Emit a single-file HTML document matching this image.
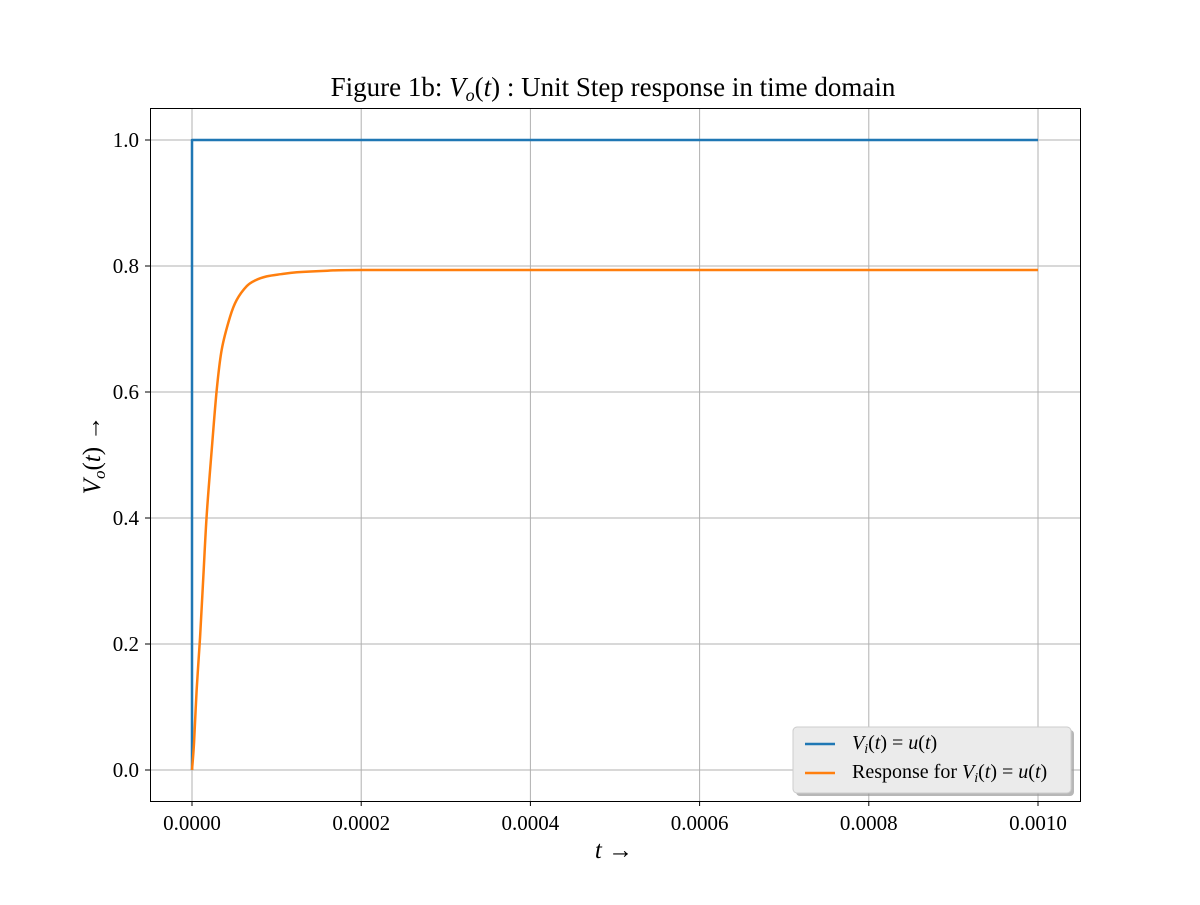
<!DOCTYPE html>
<html><head><meta charset="utf-8"><style>
body{margin:0;background:#fff;}
svg text{font-family:"Liberation Serif",serif;fill:#000;}
</style></head><body>
<svg width="1200" height="900" xmlns="http://www.w3.org/2000/svg">
<g id="grid"></g>
<g id="series"></g>
<rect x="150.5" y="108.5" width="930" height="693" fill="none" stroke="#000" stroke-width="1"/>
<g id="ticks"></g>
<text x="613" y="96" font-size="27" text-anchor="middle">Figure 1b: <tspan font-style="italic">V</tspan><tspan font-style="italic" font-size="18" dy="5">o</tspan><tspan dy="-5">(</tspan><tspan font-style="italic">t</tspan>) : Unit Step response in time domain</text>
<text x="614" y="858" font-size="25" text-anchor="middle"><tspan font-style="italic">t</tspan> →</text>
<text transform="translate(100,455) rotate(-90)" font-size="25" text-anchor="middle"><tspan font-style="italic">V</tspan><tspan font-style="italic" font-size="17" dy="5">o</tspan><tspan dy="-5">(</tspan><tspan font-style="italic">t</tspan>) →</text>
<g>
<rect x="796" y="730" width="278" height="66" rx="4" fill="#999" opacity="0.7"/>
<rect x="793" y="727" width="278" height="66" rx="4" fill="#ebebeb" stroke="#ccc"/>
<line x1="805" y1="744" x2="835" y2="744" stroke="#1f77b4" stroke-width="2.5"/>
<text x="852" y="749" font-size="20"><tspan font-style="italic">V</tspan><tspan font-style="italic" font-size="14" dy="4">i</tspan><tspan dy="-4">(</tspan><tspan font-style="italic">t</tspan>) = <tspan font-style="italic">u</tspan>(<tspan font-style="italic">t</tspan>)</text>
<line x1="805" y1="773" x2="835" y2="773" stroke="#ff7f0e" stroke-width="2.5"/>
<text x="852" y="778" font-size="20">Response for <tspan font-style="italic">V</tspan><tspan font-style="italic" font-size="14" dy="4">i</tspan><tspan dy="-4">(</tspan><tspan font-style="italic">t</tspan>) = <tspan font-style="italic">u</tspan>(<tspan font-style="italic">t</tspan>)</text>
</g>
</svg>
<script>
const xTicks=[0,0.0002,0.0004,0.0006,0.0008,0.001];
const xTickLabels=["0.0000","0.0002","0.0004","0.0006","0.0008","0.0010"];
const yTicks=[0,0.2,0.4,0.6,0.8,1.0];
const yTickLabels=["0.0","0.2","0.4","0.6","0.8","1.0"];
const inputT=[0,0,0.001];
const inputV=[0,1,1];
const respT=[0,0.0000024,0.0000055,0.0000095,0.0000134,0.0000174,0.0000233,0.0000292,0.0000351,0.0000449,0.0000528,0.0000647,0.0000745,0.0000883,0.000105,0.000124,0.00016,0.0002,0.0004,0.0006,0.0008,0.001];
const respV=[0,0.043,0.127,0.21,0.307,0.405,0.508,0.603,0.667,0.719,0.746,0.768,0.777,0.7835,0.787,0.790,0.7925,0.7937,0.7937,0.7937,0.7937,0.7937];
const NS="http://www.w3.org/2000/svg";
const X=t=>192+t/0.001*846;
const Y=v=>770-v*630;
const grid=document.getElementById('grid'),ticks=document.getElementById('ticks'),series=document.getElementById('series');
function mk(tag,attrs,parent){const e=document.createElementNS(NS,tag);for(const k in attrs)e.setAttribute(k,attrs[k]);parent.appendChild(e);return e;}
xTicks.forEach((t,i)=>{
 const g=mk('line',{x1:X(t),x2:X(t),y1:108,y2:801,stroke:'#b0b0b0','stroke-width':1},grid);
 
 
 mk('line',{x1:X(t),x2:X(t),y1:801,y2:806,stroke:'#000'},ticks);
 const l=mk('text',{x:X(t),y:830,'font-size':21,'text-anchor':'middle'},ticks);
 l.textContent=xTickLabels[i];
 
 
});
yTicks.forEach((v,i)=>{
 const g=mk('line',{x1:150,x2:1080,y1:Y(v),y2:Y(v),stroke:'#b0b0b0','stroke-width':1},grid);
 
 
 mk('line',{x1:145,x2:150,y1:Y(v),y2:Y(v),stroke:'#000'},ticks);
 const l=mk('text',{x:139,y:Y(v)+7,'font-size':21,'text-anchor':'end'},ticks);
 l.textContent=yTickLabels[i];
 
 
});
function path(ts,vs,color,name,smooth){
 const P=ts.map((t,i)=>[X(t),Y(vs[i])]);
 let d='M'+P[0][0].toFixed(2)+','+P[0][1].toFixed(2);
 for(let i=0;i<P.length-1;i++){
  if(!smooth){d+=' L'+P[i+1][0].toFixed(2)+','+P[i+1][1].toFixed(2);continue;}
  const p0=P[Math.max(0,i-1)],p1=P[i],p2=P[i+1],p3=P[Math.min(P.length-1,i+2)];
  const c1=[p1[0]+(p2[0]-p0[0])/6,p1[1]+(p2[1]-p0[1])/6];
  const c2=[p2[0]-(p3[0]-p1[0])/6,p2[1]-(p3[1]-p1[1])/6];
  d+=' C'+c1.map(n=>n.toFixed(2)).join(',')+' '+c2.map(n=>n.toFixed(2)).join(',')+' '+p2.map(n=>n.toFixed(2)).join(',');
 }
 const p=mk('path',{d:d,fill:'none',stroke:color,'stroke-width':2.5,'stroke-linejoin':'round'},series);
 
 
}
path(inputT,inputV,'#1f77b4','input-step-line',false);
path(respT,respV,'#ff7f0e','response-line',true);
</script>
</body></html>
